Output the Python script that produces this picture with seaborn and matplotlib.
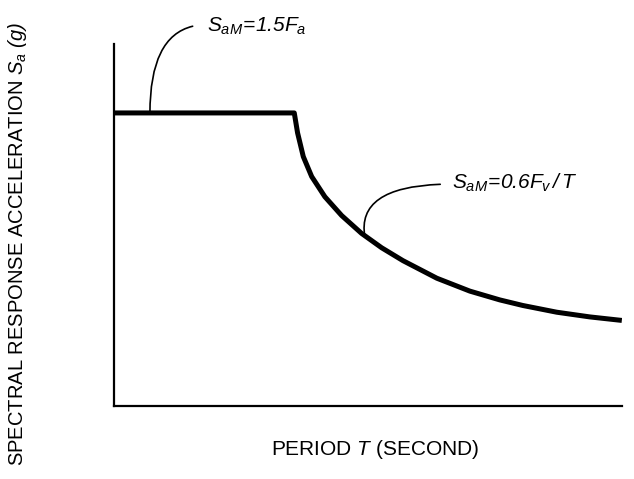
import matplotlib
matplotlib.use('Agg')
import pandas as pd
import seaborn as sns
from matplotlib import pyplot as plt

# values (period T in s, Sa normalised to the plateau)
period = [0.0, 1.42, 1.446, 1.491, 1.557, 1.661, 1.793, 1.950, 2.108,
          2.276, 2.543, 2.803, 3.039, 3.220, 3.488, 3.748, 4.0]
sa = [1.0, 1.0, 0.932, 0.851, 0.783, 0.714, 0.650, 0.589, 0.540,
      0.496, 0.436, 0.392, 0.362, 0.343, 0.320, 0.304, 0.292]

df = pd.DataFrame({'T': period, 'Sa': sa})

sns.set_style('white')
plt.rcParams['font.family'] = ['Liberation Sans', 'DejaVu Sans']
plt.rcParams['text.color'] = 'black'
plt.rcParams['axes.labelcolor'] = 'black'
plt.rcParams['mathtext.fontset'] = 'custom'
plt.rcParams['mathtext.it'] = 'Liberation Sans:italic'
plt.rcParams['mathtext.rm'] = 'Liberation Sans:italic'

fig = plt.figure(figsize=(6.34, 4.79), dpi=100)
ax = fig.add_axes([0.1798, 0.1524, 0.801, 0.7556])

sns.lineplot(x='T', y='Sa', data=df, color='black', linewidth=3.6, ax=ax,
             sort=False, solid_joinstyle='round', solid_capstyle='butt')

ax.set_xlim(0, 4.0)
ax.set_ylim(0, 1.235)
ax.set_xticks([])
ax.set_yticks([])
sns.despine(ax=ax)
for side in ['left', 'bottom']:
    ax.spines[side].set_linewidth(1.6)
    ax.spines[side].set_color('black')

ax.set_xlabel('PERIOD $T$ (SECOND)', fontsize=15)
ax.xaxis.set_label_coords(0.514, -0.088)
ax.set_ylabel('SPECTRAL RESPONSE ACCELERATION $S_a$ $(g)$', fontsize=14.5)
ax.yaxis.set_label_coords(-0.167, 0.4475)

ax.annotate(r'$S_{aM}\!=\!1.5F_a$', xy=(0.283, 1.0), xytext=(0.732, 1.294),
            fontsize=15, va='center', ha='left', annotation_clip=False,
            arrowprops=dict(arrowstyle='-', color='black', lw=1.2, shrinkA=8, shrinkB=0,
                            relpos=(0, 0.6),
                            connectionstyle='angle3,angleA=0,angleB=90'))
ax.annotate(r'$S_{aM}\!=\!0.6F_v\,/\,T$', xy=(1.976, 0.577), xytext=(2.661, 0.761),
            fontsize=15, va='center', ha='left', annotation_clip=False,
            arrowprops=dict(arrowstyle='-', color='black', lw=1.2, shrinkA=6, shrinkB=0,
                            relpos=(0, 0.45),
                            connectionstyle='angle3,angleA=0,angleB=100'))

plt.savefig('out.png', dpi=100)
